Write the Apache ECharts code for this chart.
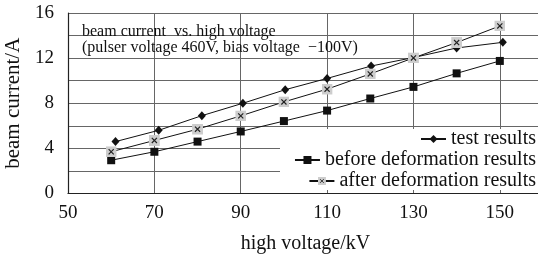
<!DOCTYPE html>
<html>
<head>
<meta charset="utf-8">
<script src="https://cdn.jsdelivr.net/npm/echarts@6/dist/echarts.min.js"></script>
<style>
html,body{margin:0;padding:0;background:#fff;}
#chart{width:538px;height:254px;}
</style>
</head>
<body>
<div id="chart"></div>
<script>
// ---- data ----
const testX = [61, 71, 81, 90.5, 100.3, 110, 120.2, 130, 140, 150.7];
const testY = [4.6, 5.6, 6.9, 8.0, 9.2, 10.2, 11.3, 12.05, 12.9, 13.4];
const beforeX = [60, 70, 80, 90, 100, 110, 120, 130, 140, 150];
const beforeY = [2.95, 3.7, 4.6, 5.5, 6.42, 7.35, 8.42, 9.45, 10.65, 11.75];
const afterX = [60, 70, 80, 90, 100, 110, 120, 130, 140, 150];
const afterY = [3.7, 4.7, 5.7, 6.88, 8.12, 9.25, 10.6, 12.02, 13.38, 14.85];
const seriesNames = ['test results', 'before deformation results', 'after deformation results'];
const titleLines = ['beam current  vs. high voltage', '(pulser voltage 460V, bias voltage  \u2212100V)'];
const xName = 'high voltage/kV';
const yName = 'beam current/A';

const serif = '"Liberation Serif", "DejaVu Serif", serif';
const pair = (xs, ys) => xs.map((x, i) => [x, ys[i]]);

const xSvg = '<svg xmlns="http://www.w3.org/2000/svg" width="12" height="12">' +
  '<rect width="12" height="12" fill="#cdcdcd"/>' +
  '<path d="M3.2 3.2L8.8 8.8M8.8 3.2L3.2 8.8" stroke="#222" stroke-width="1.3"/></svg>';
const xSymbol = 'image://data:image/svg+xml;utf8,' + encodeURIComponent(xSvg);

const chart = echarts.init(document.getElementById('chart'), null, {renderer: 'canvas'});
const legendBase = {
  orient: 'horizontal', right: 2, padding: 0, itemWidth: 25, itemHeight: 10, itemGap: 8,
  textStyle: {fontFamily: serif, fontSize: 20, color: '#111', lineHeight: 20},
  inactiveColor: '#111'
};
chart.setOption({
  animation: false,
  backgroundColor: '#fff',
  title: {
    text: titleLines.join('\n'),
    left: 77, top: 19,
    textStyle: {fontFamily: serif, fontSize: 16, fontWeight: 'normal', color: '#111', lineHeight: 16}
  },
  grid: {left: 68, top: 13, width: 475, height: 180.5, containLabel: false, outerBoundsMode: 'none'},
  xAxis: {
    type: 'value', min: 50, max: 160, interval: 20,
    name: xName, nameLocation: 'middle', nameGap: 40,
    nameTextStyle: {fontFamily: serif, fontSize: 20, color: '#111'},
    axisLine: {show: true, onZero: false, lineStyle: {color: '#222', width: 1.2}},
    axisTick: {show: false},
    axisLabel: {fontFamily: serif, fontSize: 19, color: '#111', margin: 10, showMaxLabel: false},
    splitLine: {show: true, lineStyle: {color: '#666', width: 1}}
  },
  yAxis: {
    type: 'value', min: 0, max: 16, interval: 2,
    name: yName, nameLocation: 'middle', nameGap: 37, nameRotate: 90,
    nameTextStyle: {fontFamily: serif, fontSize: 21, color: '#111'},
    axisLine: {show: true, lineStyle: {color: '#222', width: 1.2}},
    axisTick: {show: false},
    axisLabel: {fontFamily: serif, fontSize: 19, color: '#111', margin: 14,
      formatter: v => (v % 4 === 0 ? String(v) : '')},
    splitLine: {show: true, lineStyle: {color: '#666', width: 1}}
  },
  graphic: [{
    type: 'rect', z: 1, left: 280, top: 129,
    shape: {width: 260, height: 61}, style: {fill: '#fff'}
  }],
  legend: [
    Object.assign({}, legendBase, {top: 129, itemGap: 16, data: [seriesNames[0]]}),
    Object.assign({}, legendBase, {top: 150, data: [seriesNames[1]]}),
    Object.assign({}, legendBase, {top: 171, itemGap: 5, data: [seriesNames[2]]})
  ],
  series: [
    {name: seriesNames[0], type: 'line', data: pair(testX, testY),
      symbol: 'diamond', symbolSize: [8, 9], itemStyle: {color: '#111'},
      lineStyle: {color: '#111', width: 1}},
    {name: seriesNames[1], type: 'line', data: pair(beforeX, beforeY),
      symbol: 'rect', symbolSize: 8, itemStyle: {color: '#111'},
      lineStyle: {color: '#111', width: 1}},
    {name: seriesNames[2], type: 'line', data: pair(afterX, afterY),
      symbol: xSymbol, symbolSize: 11, itemStyle: {color: '#111'},
      lineStyle: {color: '#111', width: 1}}
  ]
});
</script>
</body>
</html>
